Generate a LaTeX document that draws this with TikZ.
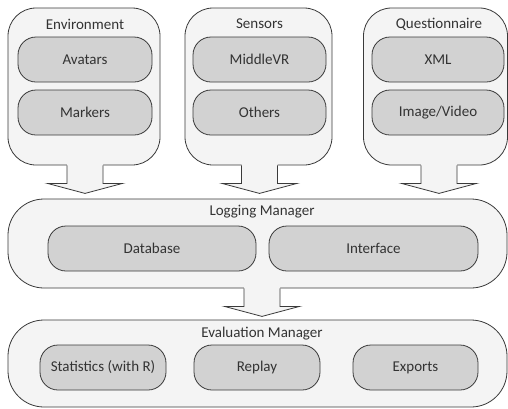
\documentclass[tikz,border=0pt]{standalone}
\usepackage{fontspec}
\setmainfont{Carlito}
\usetikzlibrary{calc}

\definecolor{panelfill}{HTML}{F4F4F4}
\definecolor{itemfill}{HTML}{D2D2D2}
\definecolor{edgecol}{HTML}{3A3A3A}

\tikzset{
  panel/.style={draw=edgecol, fill=panelfill, line width=0.8pt, inner sep=0pt},
  item/.style={draw=edgecol, fill=itemfill, line width=0.8pt, rounded corners=18pt,
    minimum height=45pt, inner sep=0pt, font=\fontsize{15}{18}\selectfont, text=black!80},
  caption/.style={inner sep=0pt, font=\fontsize{15}{18}\selectfont, text=black!80},
}

% block arrow below #2, lined up with #1, pointing at #3
\newcommand{\flowarrow}[3]{%
  \fill[panelfill] let \p1=(#1.center), \p2=(#2.south) in
    (\x1-18pt,\y2+2pt) -- (\x1-18pt,\y2-18pt) -- (\x1-37.5pt,\y2-18pt) -- (\x1,\y2-28pt)
    -- (\x1+37.5pt,\y2-18pt) -- (\x1+18pt,\y2-18pt) -- (\x1+18pt,\y2+2pt) -- cycle;
  \draw[edgecol, line width=0.8pt, line join=miter] let \p1=(#1.center), \p2=(#2.south) in
    (\x1-18pt,\y2) -- (\x1-18pt,\y2-18pt) -- (\x1-37.5pt,\y2-18pt) -- (\x1,\y2-28pt)
    -- (\x1+37.5pt,\y2-18pt) -- (\x1+18pt,\y2-18pt) -- (\x1+18pt,\y2);
}

\begin{document}
\begin{tikzpicture}[x=1pt, y=-1pt]
    \useasboundingbox (0,0) rectangle (508,408);

    % inputs
    \node[panel, rounded corners=28pt, minimum width=152pt, minimum height=157pt] (env) at (84,86.5) {};
    \node[panel, rounded corners=28pt, minimum width=147pt, minimum height=157pt] (sens) at (258.5,86.5) {};
    \node[panel, rounded corners=28pt, minimum width=144pt, minimum height=157pt] (quest) at (435.5,86.5) {};

    \node[caption] (envtitle) at (85,24) {Environment};
    \node[caption] (senstitle) at (259.5,24) {Sensors};
    \node[caption] (questtitle) at (439,24) {Questionnaire};

    \node[item, minimum width=134pt] (avatars) at (85,59.5) {Avatars};
    \node[item, minimum width=134pt] (markers) at (85,112.5) {Markers};
    \node[item, minimum width=133pt] (middlevr) at (259.5,59.5) {MiddleVR};
    \node[item, minimum width=133pt] (others) at (259.5,112.5) {Others};
    \node[item, minimum width=132pt] (xml) at (438,59.5) {XML};
    \node[item, minimum width=132pt] (media) at (438,112.5) {Image/Video};

    % logging
    \node[panel, rounded corners=36pt, minimum width=499pt, minimum height=89pt] (log) at (257.5,243.5) {};
    \node[caption] (logtitle) at (262,212) {Logging Manager};
    \node[item, minimum width=208pt] (db) at (152,248.5) {Database};
    \node[item, minimum width=209pt] (iface) at (373.5,248.5) {Interface};

    % evaluation
    \node[panel, rounded corners=36pt, minimum width=499pt, minimum height=87pt] (eval) at (257.5,363.5) {};
    \node[caption] (evaltitle) at (262,334) {Evaluation Manager};
    \node[item, minimum width=126pt] (stats) at (103,367.5) {Statistics (with R)};
    \node[item, minimum width=126pt] (replay) at (257,367.5) {Replay};
    \node[item, minimum width=125pt] (exports) at (415.5,367.5) {Exports};

    \flowarrow{envtitle}{env}{log}
    \flowarrow{senstitle}{sens}{log}
    \flowarrow{questtitle}{quest}{log}
    \flowarrow{logtitle}{log}{eval}

\end{tikzpicture}
\end{document}
